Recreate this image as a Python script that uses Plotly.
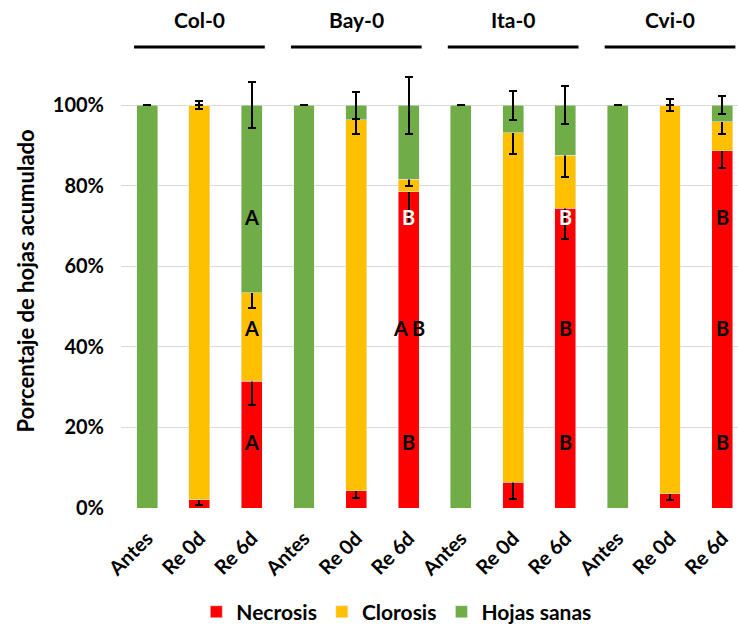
import plotly.graph_objects as go

tick_labels = ["Antes", "Re 0d", "Re 6d"] * 4
groups = ["Col-0", "Bay-0", "Ita-0", "Cvi-0"]
x_pos = list(range(12))

necrosis = [0, 2.0, 31.5, 0, 4.3, 78.5, 0, 6.4, 74.4, 0, 3.6, 88.7]
clorosis = [0, 98.0, 21.9, 0, 92.1, 3.1, 0, 86.8, 13.2, 0, 96.4, 7.2]
sanas = [100, 0, 46.6, 100, 3.6, 18.4, 100, 6.8, 12.4, 100, 0, 4.1]

err_necrosis = [0, 1.2, 5.9, 0, 1.8, 7.7, 0, 4.2, 7.5, 0, 1.5, 4.2]
err_clorosis = [0, 1.0, 3.7, 0, 3.5, 1.6, 0, 5.2, 5.4, 0, 1.5, 3.0]
err_sanas = [0, 0, 5.7, 0, 3.3, 7.1, 0, 3.6, 4.7, 0, 0, 2.2]

# significance letters for "Re 6d" bars (x index, level %, text, colour)
letter_x = [2, 2, 2, 5, 5, 5, 8, 8, 8, 11, 11, 11]
letter_y = [16.5, 44.6, 72.3] * 4
letter_text = ["A", "A", "A", "B", "A B", "B", "B", "B", "B", "B", "B", "B"]
letter_color = ["black", "black", "black", "black", "black", "white",
                "black", "black", "white", "black", "black", "black"]

FONT = "Lato"

def eb(vals):
    return dict(type="data", array=vals, visible=True, color="black",
                thickness=2, width=4)

fig = go.Figure()
fig.add_trace(go.Bar(x=x_pos, y=necrosis, name="Necrosis", marker_color="#FF0000",
                     error_y=eb(err_necrosis), width=0.4, cliponaxis=False))
fig.add_trace(go.Bar(x=x_pos, y=clorosis, name="Clorosis", marker_color="#FFC000",
                     error_y=eb(err_clorosis), width=0.4, cliponaxis=False))
fig.add_trace(go.Bar(x=x_pos, y=sanas, name="Hojas sanas", marker_color="#70AD47",
                     error_y=eb(err_sanas), width=0.4, cliponaxis=False))

annotations = []
for lx, ly, lt, lc in zip(letter_x, letter_y, letter_text, letter_color):
    annotations.append(dict(x=lx, y=ly, xref="x", yref="y", text=lt, showarrow=False,
                            font=dict(family=FONT, size=20, color=lc, weight="bold")))

shapes = []
for gi, g in enumerate(groups):
    c = gi * 3 + 1
    annotations.append(dict(x=c, y=1.1016, xref="x", yref="paper", text=g, showarrow=False,
                            xanchor="center", yanchor="middle",
                            font=dict(family=FONT, size=21, color="black", weight="bold")))
    shapes.append(dict(type="line", xref="x", yref="paper", x0=c - 1.25, x1=c + 1.25,
                       y0=1.0406, y1=1.0406, line=dict(color="black", width=3)))

annotations.append(dict(x=-0.155, y=0.512, xref="paper", yref="paper",
                        xanchor="center", yanchor="middle",
                        text="Porcentaje de hojas acumulado", textangle=-90, showarrow=False,
                        font=dict(family=FONT, size=22, color="black", weight="bold")))

fig.update_layout(
    width=738, height=626,
    margin=dict(l=121, r=0, t=65, b=118, autoexpand=False),
    barmode="stack",
    plot_bgcolor="white", paper_bgcolor="white",
    font=dict(family=FONT, color="black"),
    showlegend=True,
    legend=dict(orientation="h", x=0.447, xanchor="center", y=-0.235, yanchor="middle",
                font=dict(family=FONT, size=21, color="black", weight="bold"),
                traceorder="normal", itemwidth=30),
    annotations=annotations,
    shapes=shapes,
)
fig.update_xaxes(range=[-0.5, 11.3], tickvals=x_pos, ticktext=tick_labels, tickangle=-45,
                 tickfont=dict(family=FONT, size=20, color="black", weight="bold"),
                 showgrid=False, zeroline=False, showline=False, ticklabelstandoff=14,
                 automargin=False)
fig.update_yaxes(range=[0, 110], tickvals=[0, 20, 40, 60, 80, 100],
                 ticktext=["0%", "20%", "40%", "60%", "80%", "100%"],
                 tickfont=dict(family=FONT, size=20, color="black", weight="bold"),
                 showgrid=True, gridcolor="#D9D9D9", gridwidth=1, zeroline=False,
                 showline=False, ticklabelstandoff=16, automargin=False)

fig.write_html("out.html")
